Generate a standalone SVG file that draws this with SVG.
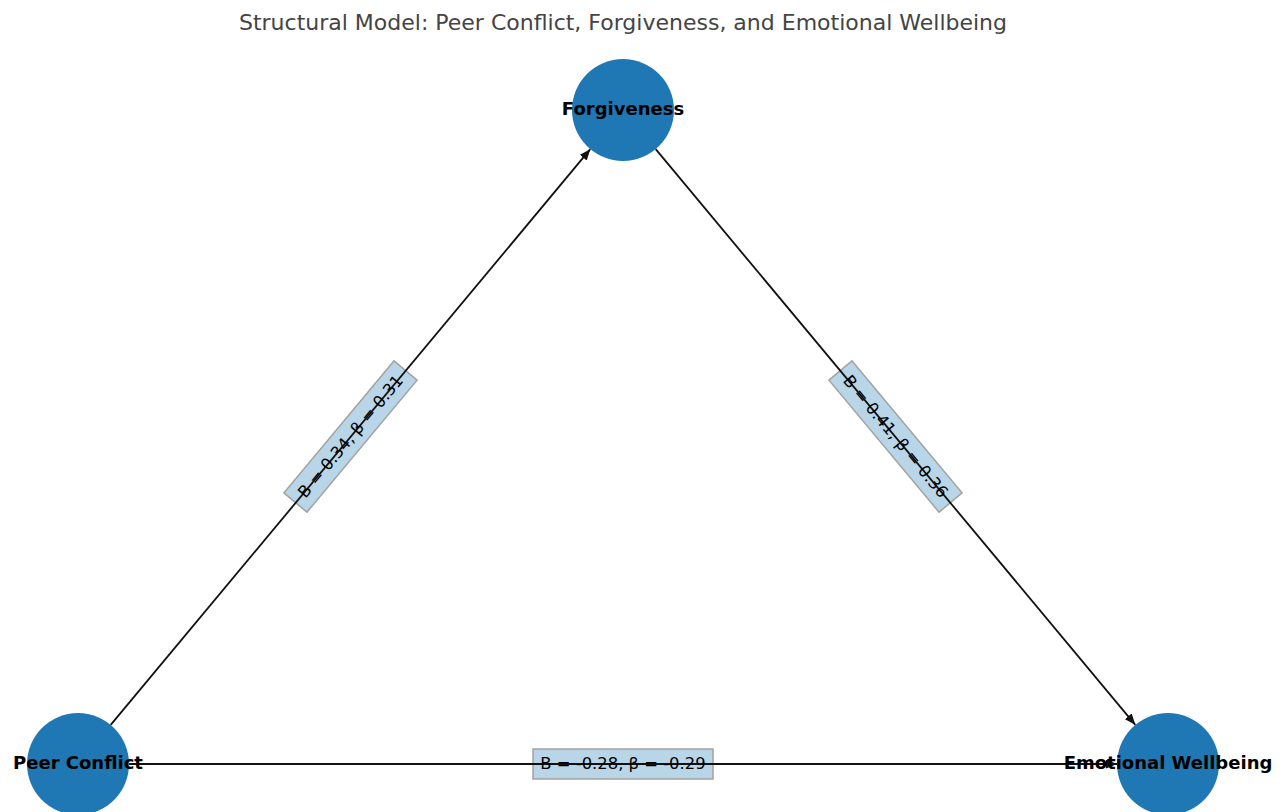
<svg xmlns="http://www.w3.org/2000/svg" width="1288" height="812" viewBox="0 0 1288 812">
<style>
.node{fill:#1f77b4}
.nlabel{font-family:"DejaVu Sans",sans-serif;font-weight:bold;font-size:18px;fill:#000;text-anchor:middle;dominant-baseline:central}
.edge{stroke:#111;stroke-width:1.8;fill:none}
.lbox{fill:#b9d6e8;stroke:#a3a3a3;stroke-width:1.5}
.ltext{font-family:"DejaVu Sans",sans-serif;font-size:16.4px;fill:#000;text-anchor:middle;dominant-baseline:central}
.title{font-family:"DejaVu Sans",sans-serif;font-size:22px;fill:#444;text-anchor:middle}
</style>
<defs>
<marker id="arr" viewBox="0 0 10 10" refX="10" refY="5" markerWidth="11" markerHeight="9" markerUnits="userSpaceOnUse" orient="auto" preserveAspectRatio="none">
<path d="M0,0 L10,5 L0,10 z" fill="#111"/>
</marker>
</defs>
<rect width="1288" height="812" fill="#fff"/>
<text class="title" x="623" y="30">Structural Model: Peer Conflict, Forgiveness, and Emotional Wellbeing</text>
<g id="edge-label-boxes">
<rect class="lbox" x="-86" y="-15" width="172" height="30" transform="translate(350.5,436.5) rotate(-50.2)"/>
<rect class="lbox" x="-86" y="-15" width="172" height="30" transform="translate(895.5,436.5) rotate(50.2)"/>
<rect class="lbox" x="533" y="749" width="180" height="30"/>
</g>
<g id="connectors">
<line class="edge" x1="110.7" y1="724.8" x2="590.3" y2="149.2" marker-end="url(#arr)"/>
<line class="edge" x1="655.7" y1="149.2" x2="1135.3" y2="724.8" marker-end="url(#arr)"/>
<line class="edge" x1="129" y1="764" x2="1117" y2="764" marker-end="url(#arr)"/>
</g>
<g id="edge-labels">
<text class="ltext" transform="translate(350.5,436.5) rotate(-50.2)">B = 0.34, β = 0.31</text>
<text class="ltext" transform="translate(895.5,436.5) rotate(50.2)">B = 0.41, β = 0.36</text>
<text class="ltext" x="623" y="763.5">B = -0.28, β = -0.29</text>
</g>
<g id="node-forgiveness">
<circle class="node" cx="623" cy="110" r="51"/>
<text class="nlabel" x="623" y="108.5">Forgiveness</text>
</g>
<g id="node-peer-conflict">
<circle class="node" cx="78" cy="764" r="51"/>
<text class="nlabel" x="78" y="762.5">Peer Conflict</text>
</g>
<g id="node-emotional-wellbeing">
<circle class="node" cx="1168" cy="764" r="51"/>
<text class="nlabel" x="1168" y="762.5">Emotional Wellbeing</text>
</g>
</svg>
